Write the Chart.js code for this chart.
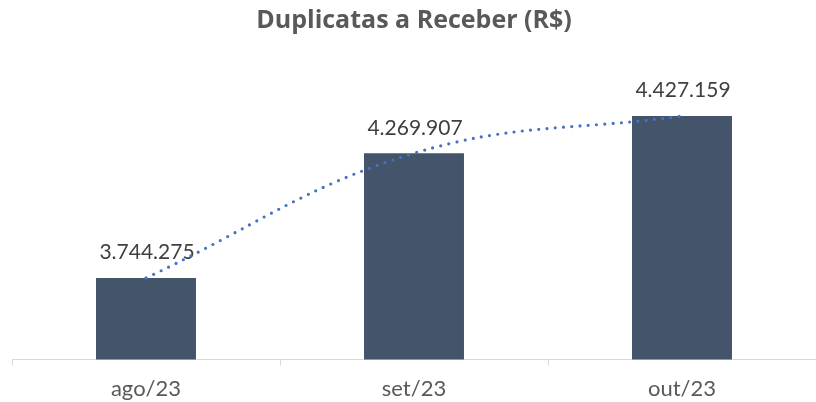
<!DOCTYPE html>
<html>
<head>
<meta charset="utf-8">
<script src="https://cdn.jsdelivr.net/npm/chart.js@4"></script>
<style>
  html, body { margin: 0; padding: 0; background: #fff; }
  #wrap { width: 816px; height: 402px; }
</style>
</head>
<body>
<div id="wrap"><canvas id="chart" width="816" height="402"></canvas></div>
<script>
/* ——— data ——— */
const MONTHS = ['ago/23', 'set/23', 'out/23'];
const DUPLICATAS = [3744275, 4269907, 4427159];
const TITLE = 'Duplicatas a Receber (R$)';

/* ——— look ——— */
const BAR_COLOUR   = '#44546A';
const TREND_COLOUR = '#4472C4';
const TEXT_GREY    = '#595959';
const LABEL_GREY   = '#404040';
const FONT = 'Lato';

const fmt = v => v.toString().replace(/\B(?=(\d{3})+(?!\d))/g, '.');

// value labels above the bars (drawn before the trend line so the dots sit on top)
const barLabels = {
    id: 'barLabels',
    afterDatasetDraw(chart, args) {
        if (args.meta.type !== 'bar') return;
        const ctx = chart.ctx;
        ctx.save();
        ctx.font = `21px ${FONT}`;
        ctx.fillStyle = LABEL_GREY;
        ctx.textAlign = 'center';
        ctx.textBaseline = 'bottom';
        args.meta.data.forEach((bar, i) => {
            ctx.fillText(fmt(DUPLICATAS[i]), bar.x + 1, bar.y - 15);
        });
        ctx.restore();
    }
};

const ctx = document.getElementById('chart').getContext('2d');
new Chart(ctx, {
    data: {
        labels: MONTHS,
        datasets: [
            {
                type: 'line',
                data: DUPLICATAS,
                order: 0,
                borderColor: TREND_COLOUR,
                borderWidth: 3.2,
                borderDash: [0, 8.3],
                borderCapStyle: 'round',
                tension: 0.4,
                pointRadius: 0,
                fill: false
            },
            {
                type: 'bar',
                data: DUPLICATAS,
                order: 1,
                backgroundColor: BAR_COLOUR,
                barPercentage: 1,
                categoryPercentage: 0.373
            }
        ]
    },
    options: {
        responsive: false,
        animation: false,
        layout: { padding: { left: 12, right: 0, top: 0, bottom: 0 } },
        plugins: {
            legend: { display: false },
            tooltip: { enabled: false },
            title: {
                display: true,
                text: TITLE,
                color: TEXT_GREY,
                font: { family: '"Open Sans"', size: 25, weight: 'bold' },
                padding: { top: 6, bottom: 39 }
            }
        },
        scales: {
            x: {
                offset: true,
                afterFit: s => { s.height = 42.5; },
                grid: {
                    display: true,
                    offset: true,
                    drawOnChartArea: false,
                    drawTicks: true,
                    tickLength: 6,
                    color: '#D9D9D9'
                },
                border: { display: true, color: '#D9D9D9', width: 1 },
                ticks: {
                    color: TEXT_GREY,
                    padding: 10,
                    font: { family: FONT, size: 22 }
                }
            },
            y: {
                display: false,
                min: 3400000,
                max: 4600000
            }
        }
    },
    plugins: [barLabels]
});
</script>
</body>
</html>
